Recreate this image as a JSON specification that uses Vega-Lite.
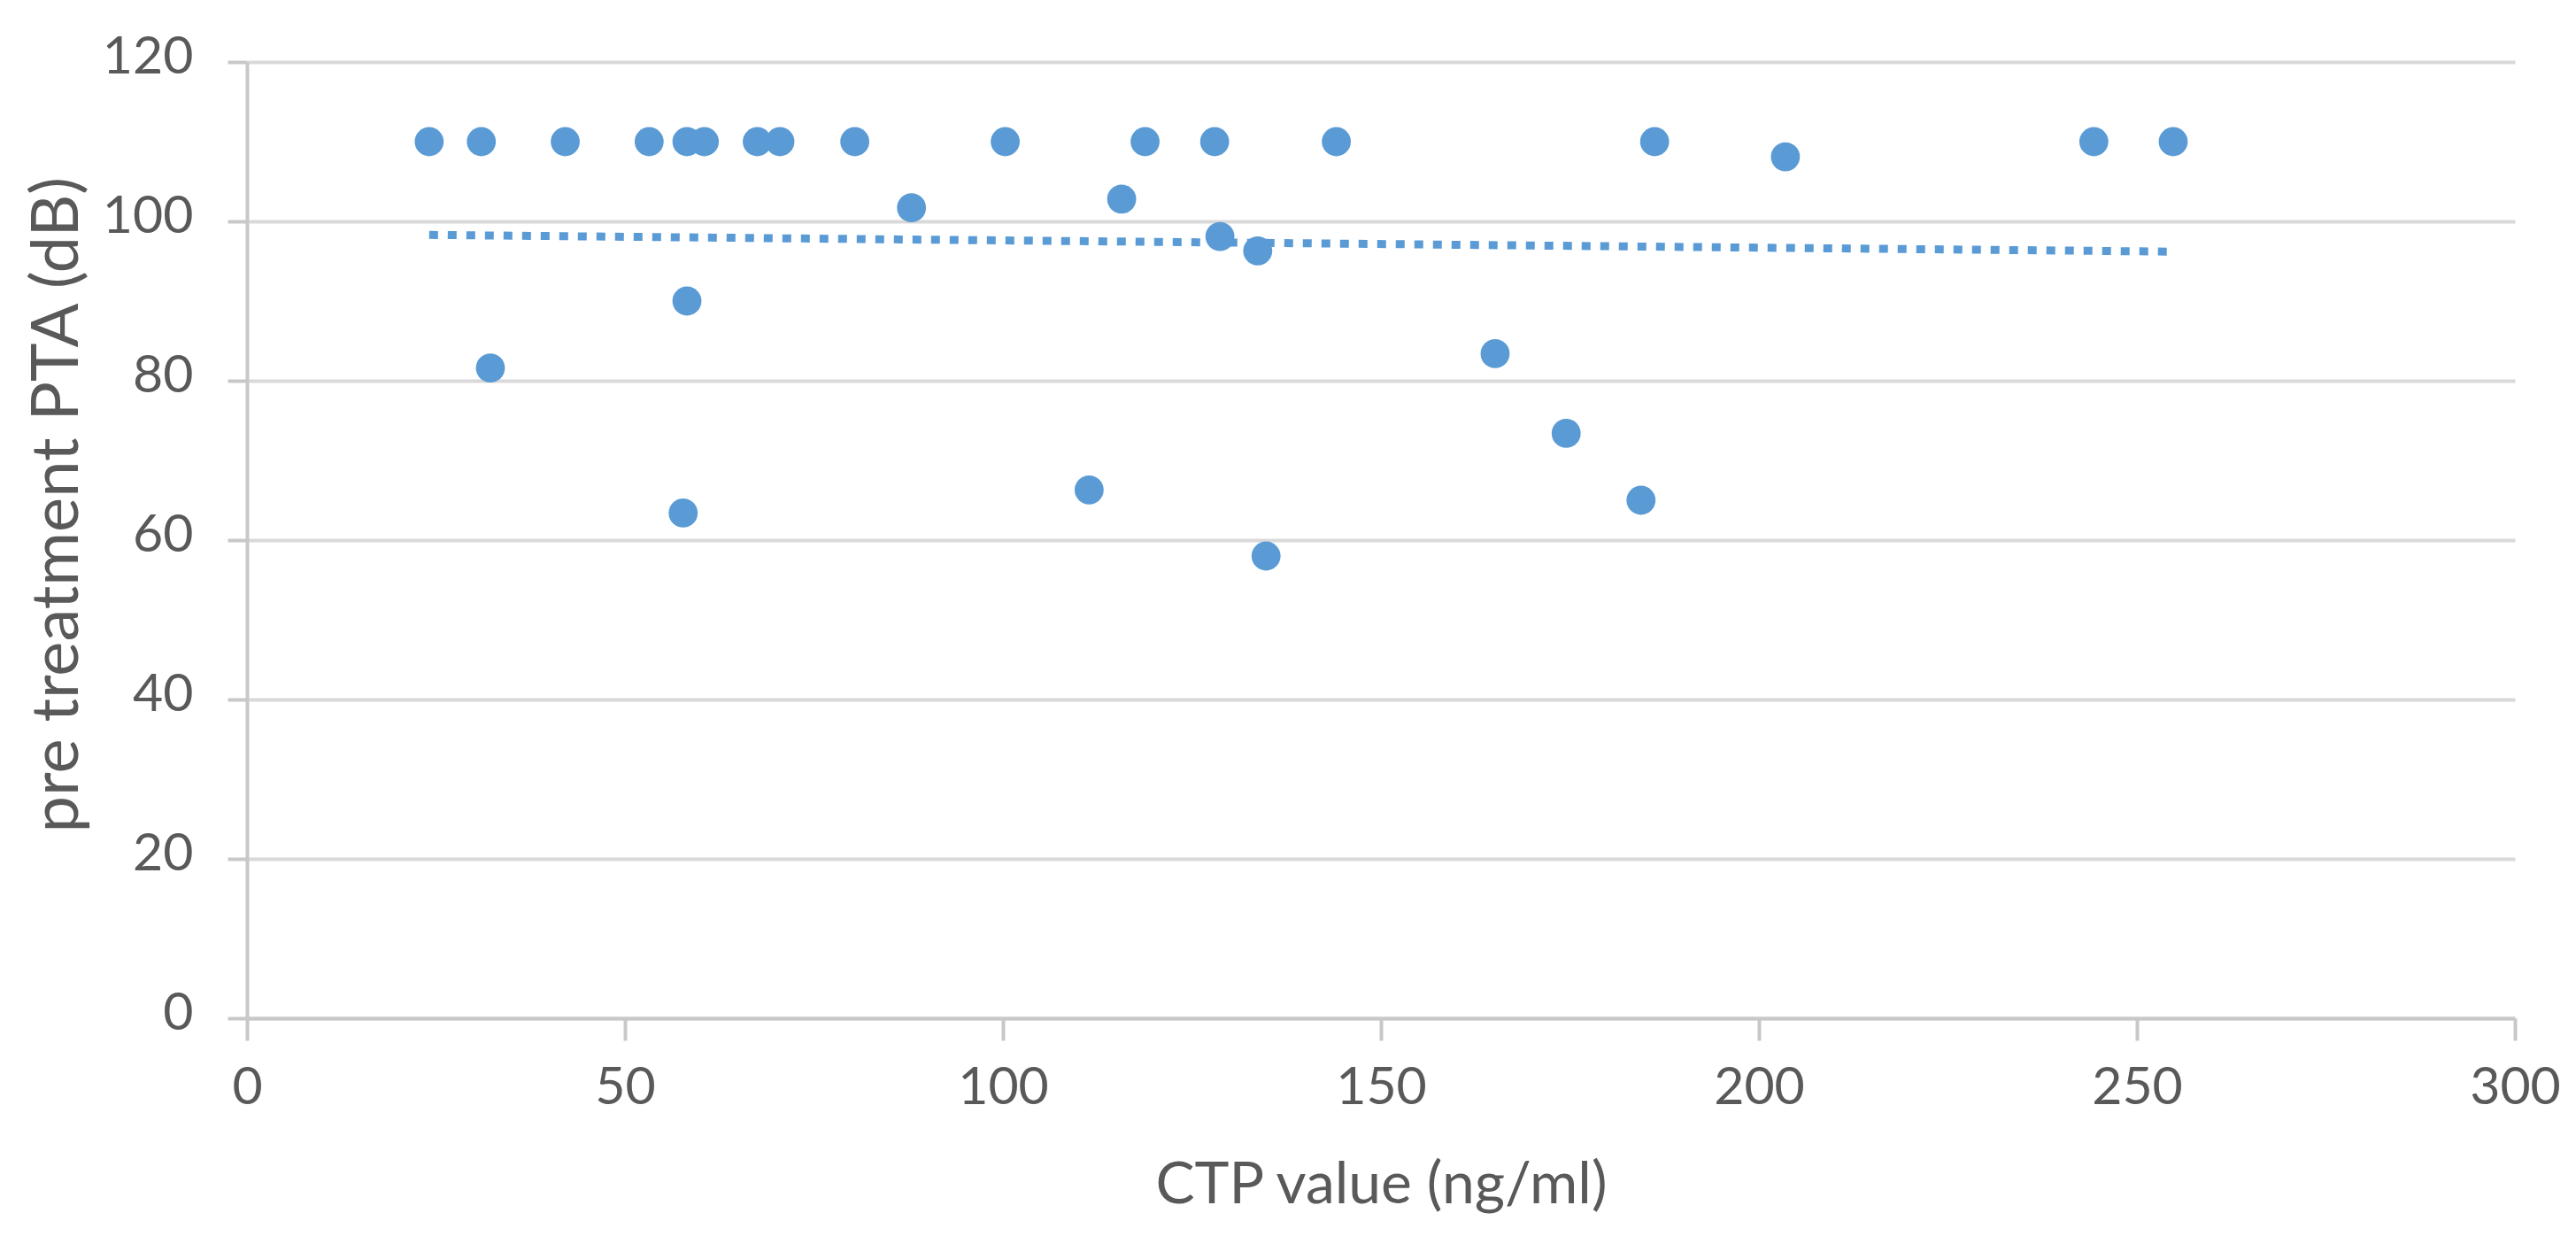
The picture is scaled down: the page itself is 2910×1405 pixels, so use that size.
{
  "$schema": "https://vega.github.io/schema/vega-lite/v6.json",
  "width": 2562,
  "height": 1080,
  "autosize": {"type": "none"},
  "padding": {"left": 279, "top": 70, "right": 69, "bottom": 255},
  "background": "white",
  "config": {"view": {"stroke": null}, "font": "Lato"},
  "datasets": {
    "points": [
      {"ctp": 24.1, "pta": 110},
      {"ctp": 31.0, "pta": 110},
      {"ctp": 42.1, "pta": 110},
      {"ctp": 53.2, "pta": 110},
      {"ctp": 58.2, "pta": 110},
      {"ctp": 60.5, "pta": 110},
      {"ctp": 67.5, "pta": 110},
      {"ctp": 70.5, "pta": 110},
      {"ctp": 80.4, "pta": 110},
      {"ctp": 100.3, "pta": 110},
      {"ctp": 118.8, "pta": 110},
      {"ctp": 128.0, "pta": 110},
      {"ctp": 144.1, "pta": 110},
      {"ctp": 186.2, "pta": 110},
      {"ctp": 203.5, "pta": 108.1},
      {"ctp": 244.3, "pta": 110},
      {"ctp": 254.8, "pta": 110},
      {"ctp": 87.9, "pta": 101.7},
      {"ctp": 115.7, "pta": 102.8},
      {"ctp": 128.7, "pta": 98.1},
      {"ctp": 133.7, "pta": 96.3},
      {"ctp": 58.2, "pta": 90.0},
      {"ctp": 32.2, "pta": 81.6},
      {"ctp": 165.1, "pta": 83.4},
      {"ctp": 174.5, "pta": 73.4},
      {"ctp": 184.4, "pta": 65.0},
      {"ctp": 111.4, "pta": 66.3},
      {"ctp": 57.7, "pta": 63.4},
      {"ctp": 134.8, "pta": 58.0}
    ],
    "trend": [
      {"ctp": 24.1, "pta": 98.3},
      {"ctp": 254.8, "pta": 96.2}
    ]
  },
  "encoding": {
    "x": {
      "field": "ctp",
      "type": "quantitative",
      "scale": {"domain": [0, 300], "nice": false, "zero": false},
      "axis": {
        "title": "CTP value (ng/ml)",
        "values": [0, 50, 100, 150, 200, 250, 300],
        "grid": false,
        "domainColor": "#C8C8C8",
        "domainWidth": 4,
        "tickColor": "#C8C8C8",
        "tickWidth": 4,
        "tickSize": 25,
        "labelFontSize": 59,
        "labelColor": "#595959",
        "labelBaseline": "alphabetic",
        "labelPadding": 71,
        "labelFlush": false,
        "titleFontSize": 66,
        "titleColor": "#595959",
        "titleFontWeight": "normal",
        "titleBaseline": "alphabetic",
        "titleAnchor": "middle",
        "titleY": 208
      }
    },
    "y": {
      "field": "pta",
      "type": "quantitative",
      "scale": {"domain": [0, 120], "nice": false, "zero": false},
      "axis": {
        "title": "pre treatment PTA (dB)",
        "values": [0, 20, 40, 60, 80, 100, 120],
        "grid": true,
        "gridColor": "#D9D9D9",
        "gridWidth": 4,
        "domainColor": "#C8C8C8",
        "domainWidth": 4,
        "tickColor": "#C8C8C8",
        "tickWidth": 4,
        "tickSize": 22,
        "labelFontSize": 59,
        "labelColor": "#595959",
        "labelPadding": 39,
        "labelOffset": -6,
        "labelFlush": false,
        "titleFontSize": 74,
        "titleColor": "#595959",
        "titleFontWeight": "normal",
        "titleAngle": 270,
        "titleBaseline": "alphabetic",
        "titleAlign": "left",
        "titleX": -192,
        "titleY": 870
      }
    }
  },
  "layer": [
    {
      "data": {"name": "trend"},
      "mark": {"type": "line", "color": "#5B9BD5", "strokeWidth": 9, "strokeDash": [10, 11], "strokeCap": "butt"}
    },
    {
      "data": {"name": "points"},
      "mark": {"type": "circle", "size": 1075, "color": "#5B9BD5", "opacity": 1}
    }
  ]
}
